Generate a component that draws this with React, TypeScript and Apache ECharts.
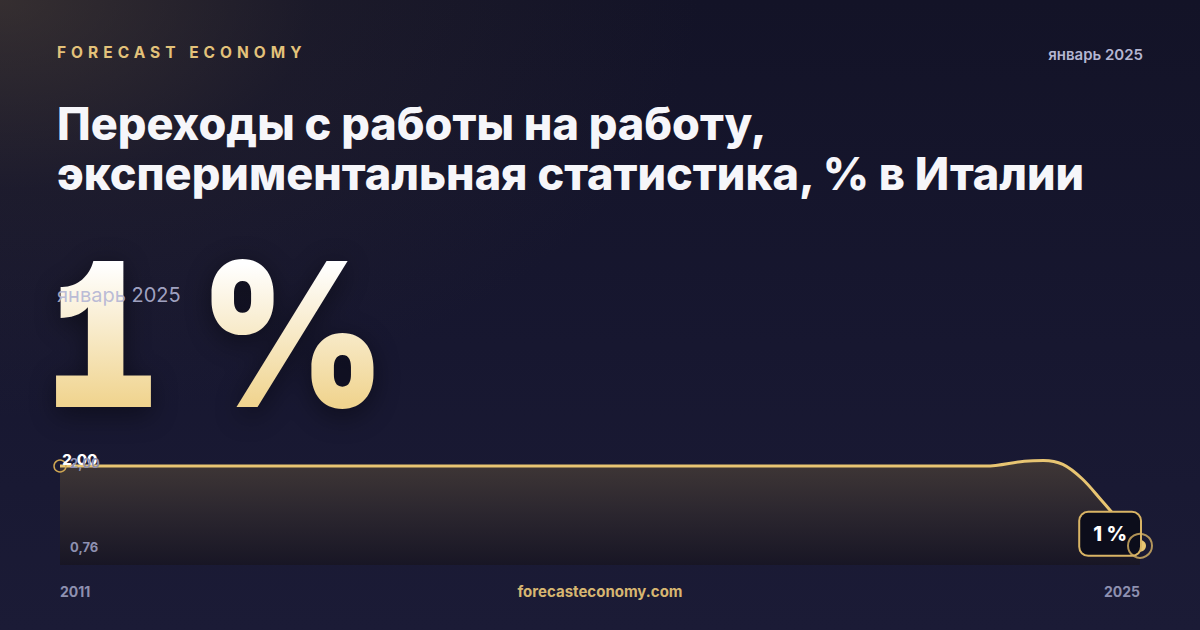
import React, { useEffect, useRef } from 'react';
import * as echarts from 'echarts';

// данные графика
const years = [2011, 2012, 2013, 2014, 2015, 2016, 2017, 2018, 2019, 2020, 2021, 2022, 2023, 2023.5, 2023.75, 2024, 2024.25, 2024.5, 2024.75, 2025];
const values = [2.0, 2.0, 2.0, 2.0, 2.0, 2.0, 2.0, 2.0, 2.0, 2.0, 2.0, 2.0, 2.0, 2.06, 2.07, 2.02, 1.84, 1.57, 1.29, 1.0];
const xTickLabels = [2011, 2025];
const yTickLabels = [0.76, 2.0];
const yMin = 0.76;
const yMax = 2.1;
const lastLabel = '1 %';
const bigValue = '1 %';
const periodLabel = 'январь 2025';
const titleLines = ['Переходы с работы на работу,', 'экспериментальная статистика, % в Италии'];

const GOLD = '#e8c572';
const fmt = (v: number) => v.toFixed(2).replace('.', ',');

const App: React.FC = () => {
  const chartRef = useRef<HTMLDivElement>(null);

  useEffect(() => {
    if (!chartRef.current) return;
    const chart = echarts.init(chartRef.current, undefined, { renderer: 'svg' });
    const last = values.length - 1;

    // первая и последняя точки с подписями, остальные без маркеров
    const lineData = values.map((v, i) => {
      if (i === 0) {
        return {
          value: [years[i], v],
          symbol: 'circle',
          symbolSize: 12,
          itemStyle: { color: 'rgba(0,0,0,0)', borderColor: '#cda552', borderWidth: 1.5 },
          label: {
            show: true,
            formatter: fmt(v),
            position: [9, -7],
            color: '#ffffff',
            fontFamily: 'Inter',
            fontWeight: 800,
            fontSize: 15
          }
        };
      }
      if (i === last) {
        return {
          value: [years[i], v],
          symbol: 'circle',
          symbolSize: 12,
          itemStyle: { color: GOLD, borderColor: GOLD, borderWidth: 0 },
          label: {
            show: true,
            formatter: lastLabel,
            position: 'left',
            distance: 0,
            offset: [6, -12],
            color: '#ffffff',
            fontFamily: 'Inter',
            fontWeight: 800,
            fontSize: 20,
            lineHeight: 20,
            backgroundColor: '#0c0d1b',
            borderColor: '#d9b465',
            borderWidth: 2,
            borderRadius: 8,
            padding: [11, 13]
          }
        };
      }
      return { value: [years[i], v], symbol: 'none' };
    });

    const option = {
      animation: false,
      backgroundColor: 'transparent',
      grid: { left: 60, right: 60, top: 458, bottom: 65 },
      xAxis: {
        type: 'value',
        min: years[0],
        max: years[last],
        splitLine: { show: false },
        axisLine: { show: false },
        axisTick: { show: false },
        axisLabel: {
          customValues: xTickLabels,
          alignMinLabel: 'left',
          alignMaxLabel: 'right',
          formatter: (v: number) => String(v),
          color: '#8e90b0',
          fontFamily: 'Inter',
          fontWeight: 700,
          fontSize: 14,
          margin: 19
        }
      },
      yAxis: {
        type: 'value',
        min: yMin,
        max: yMax,
        z: 10,
        splitLine: { show: false },
        axisLine: { show: false },
        axisTick: { show: false },
        axisLabel: {
          inside: true,
          customValues: yTickLabels,
          margin: 10,
          formatter: (v: number) => (v < 1 ? '{lo|' + fmt(v) + '}' : '{hi|' + fmt(v) + '}'),
          rich: {
            lo: { color: '#8e90b0', fontFamily: 'Inter', fontWeight: 700, fontSize: 13, padding: [0, 0, 36, 0] },
            hi: { color: '#8e90b0', fontFamily: 'Inter', fontWeight: 700, fontSize: 13, padding: [0, 0, 6, 0] }
          }
        }
      },
      series: [
        {
          type: 'line',
          data: lineData,
          smooth: 0.35,
          z: 3,
          lineStyle: { color: GOLD, width: 3 },
          areaStyle: {
            origin: 'start',
            color: new echarts.graphic.LinearGradient(0, 0, 0, 1, [
              { offset: 0, color: '#504438' },
              { offset: 0.5, color: '#332c2d' },
              { offset: 1, color: '#17141e' }
            ])
          }
        },
        {
          type: 'scatter',
          data: [[years[last], values[last]]],
          symbolSize: 24,
          z: 4,
          itemStyle: { color: 'rgba(0,0,0,0)', borderColor: '#d9b465', borderWidth: 2 }
        }
      ],
      graphic: [
        {
          type: 'text',
          right: 57,
          top: 47,
          style: { text: periodLabel, font: '600 15px Inter', fill: '#b4b6d2' }
        },
        {
          type: 'text',
          left: 57,
          top: 101,
          style: { text: titleLines[0], font: '800 45px Inter', fill: '#f6f6fa' }
        },
        {
          type: 'text',
          left: 57,
          top: 151,
          style: { text: titleLines[1], font: '800 45px Inter', fill: '#f6f6fa' }
        },
        {
          type: 'text',
          left: 57,
          top: 285,
          z: 11,
          style: { text: periodLabel, font: '400 20px Inter', fill: 'rgba(178,180,212,0.9)' }
        },
        {
          type: 'text',
          x: 600,
          y: 591,
          style: {
            text: 'forecasteconomy.com',
            font: '700 15px Inter',
            fill: '#d7b671',
            align: 'center',
            verticalAlign: 'middle'
          }
        }
      ]
    };

    chart.setOption(option);
    return () => {
      chart.dispose();
    };
  }, []);

  return (
    <div
      style={{
        position: 'fixed',
        left: 0,
        top: 0,
        width: 1200,
        height: 630,
        overflow: 'hidden',
        background:
          'radial-gradient(ellipse 700px 420px at 0% 0%, rgba(95,80,60,0.45) 0%, rgba(60,52,50,0.2) 45%, rgba(20,20,40,0) 100%), linear-gradient(180deg, #131327 0%, #171730 55%, #1b1b36 100%)'
      }}
    >
      <div
        style={{
          position: 'absolute',
          left: 44,
          top: 234,
          fontFamily: 'Inter',
          fontWeight: 900,
          fontSize: 200,
          lineHeight: '200px',
          letterSpacing: -5.5,
          fontFeatureSettings: '"tnum", "cv01"',
          whiteSpace: 'pre',
          transform: 'scaleX(0.9)',
          transformOrigin: '0 0',
          background: 'linear-gradient(180deg, #ffffff 15%, #f0d48f 85%)',
          WebkitBackgroundClip: 'text',
          backgroundClip: 'text',
          color: 'transparent',
          filter: 'drop-shadow(0 6px 14px rgba(0,0,0,0.45))'
        }}
      >
        {bigValue}
      </div>
      <div ref={chartRef} style={{ position: 'absolute', left: 0, top: 0, width: 1200, height: 630 }} />
      <div
        style={{
          position: 'absolute',
          left: 57,
          top: 44,
          fontFamily: 'Inter',
          fontWeight: 700,
          fontSize: 15.5,
          lineHeight: '18px',
          letterSpacing: 5,
          color: '#e3c27a'
        }}
      >
        FORECAST ECONOMY
      </div>
    </div>
  );
};

export default App;
